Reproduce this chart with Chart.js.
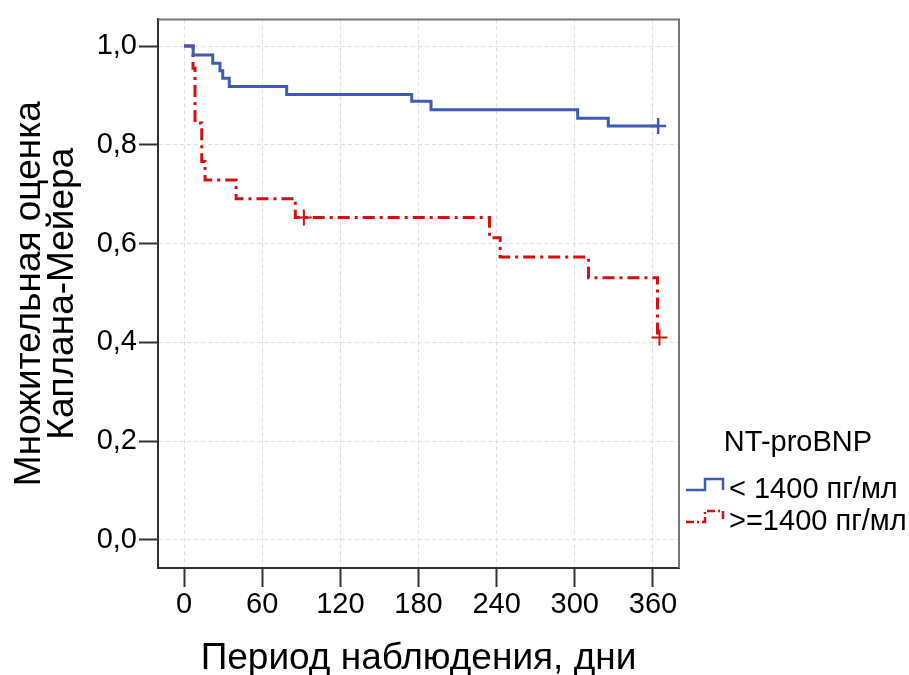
<!DOCTYPE html>
<html>
<head>
<meta charset="utf-8">
<script src="https://cdn.jsdelivr.net/npm/chart.js@4.4.1/dist/chart.umd.min.js"></script>
<style>
  html, body { margin: 0; padding: 0; background: #fff; }
</style>
</head>
<body>
<canvas id="km" width="909" height="675"></canvas>
<script>
// группы и подписи
const legendTitle = "NT-proBNP";
const groupNames = ["< 1400 пг/мл", ">=1400 пг/мл"];
const xTitle = "Период наблюдения, дни";
const yTitle = ["Множительная оценка", "Каплана-Мейера"];

// деления осей
const xTicks = [0, 60, 120, 180, 240, 300, 360];
const yTicks = [0, 0.2, 0.4, 0.6, 0.8, 1.0];

// кривая < 1400 (дни, выживаемость)
const lowDays = [0, 7, 22, 27.6, 29.7, 34.7, 78.8, 174.8, 189.6, 302.2, 325.7, 364];
const lowSurv = [1.0, 0.982, 0.965, 0.95, 0.935, 0.918, 0.902, 0.888, 0.871, 0.854, 0.838, 0.838];
const lowCensDays = [364];
const lowCensSurv = [0.838];

// кривая >= 1400
const highDays = [0, 6.9, 8.4, 13.6, 16.1, 40, 85.4, 234.5, 242.7, 310.5, 363.5, 365];
const highSurv = [1.0, 0.955, 0.844, 0.766, 0.729, 0.691, 0.653, 0.612, 0.573, 0.531, 0.41, 0.41];
const highCensDays = [92, 365];
const highCensSurv = [0.653, 0.41];

const blue = "#3e5bb5";
const red = "#d40f0f";
const redDash = [12, 5, 3, 5];
const fontFamily = 'Arial, "Liberation Sans", sans-serif';

Chart.defaults.font.family = fontFamily;
Chart.defaults.color = "#000";

const toPoints = (xs, ys) => xs.map((x, i) => ({ x: x, y: ys[i] }));
const comma = (v) => v.toFixed(1).replace(".", ",");

// рамка вокруг области графика
const framePlugin = {
  id: "frame",
  beforeDatasetsDraw(chart) {
    const { ctx, chartArea: a } = chart;
    ctx.save();
    ctx.strokeStyle = "#777";
    ctx.lineWidth = 2;
    ctx.beginPath();
    ctx.moveTo(a.left, a.top);
    ctx.lineTo(a.right, a.top);
    ctx.lineTo(a.right, a.bottom);
    ctx.stroke();
    ctx.restore();
  },
};

// легенда справа
const legendPlugin = {
  id: "kmLegend",
  afterDraw(chart) {
    const ctx = chart.ctx;
    ctx.save();
    ctx.fillStyle = "#000";
    ctx.font = "29px " + fontFamily;
    ctx.textBaseline = "middle";
    ctx.textAlign = "center";
    ctx.fillText(legendTitle, 798, 443);
    ctx.textAlign = "left";
    const styles = [
      { color: blue, dash: [] },
      { color: red, dash: [8, 3, 2, 3] },
    ];
    groupNames.forEach((name, i) => {
      const y = 490 + i * 32;
      ctx.strokeStyle = styles[i].color;
      ctx.lineWidth = 2.5;
      ctx.setLineDash(styles[i].dash);
      ctx.beginPath();
      ctx.moveTo(686, y);
      ctx.lineTo(705, y);
      ctx.lineTo(705, y - 11);
      ctx.lineTo(723, y - 11);
      ctx.lineTo(723, y);
      ctx.stroke();
      ctx.fillText(name, 729, y);
    });
    ctx.restore();
  },
};

new Chart(document.getElementById("km"), {
  type: "line",
  plugins: [framePlugin, legendPlugin],
  data: {
    datasets: [
      {
        label: groupNames[0],
        data: toPoints(lowDays, lowSurv),
        stepped: "before",
        borderColor: blue,
        borderWidth: 3,
        pointRadius: 0,
        fill: false,
      },
      {
        label: groupNames[1],
        data: toPoints(highDays, highSurv),
        stepped: "before",
        borderColor: red,
        borderWidth: 3,
        borderDash: redDash,
        pointRadius: 0,
        fill: false,
      },
      {
        label: "cens1",
        data: toPoints(lowCensDays, lowCensSurv),
        showLine: false,
        pointStyle: "cross",
        pointRadius: 8,
        borderColor: blue,
        borderWidth: 2.5,
      },
      {
        label: "cens2",
        data: toPoints(highCensDays, highCensSurv),
        showLine: false,
        pointStyle: "cross",
        pointRadius: 8,
        borderColor: red,
        borderWidth: 2,
      },
    ],
  },
  options: {
    responsive: false,
    animation: false,
    layout: { padding: { top: 17, right: 230, left: 0, bottom: 0 } },
    plugins: {
      legend: { display: false },
      tooltip: { enabled: false },
    },
    scales: {
      x: {
        type: "linear",
        min: -20,
        max: 380,
        afterBuildTicks: (scale) => {
          scale.ticks = xTicks.map((v) => ({ value: v }));
        },
        afterFit: (scale) => {
          scale.height = 107;
        },
        ticks: { autoSkip: false, padding: 1, font: { size: 29 } },
        grid: { color: "#dedede", lineWidth: 1, tickLength: 19, tickColor: "#333", tickWidth: 2 },
        border: { color: "#333", width: 2, dash: [4, 3] },
        title: {
          display: true,
          text: xTitle,
          font: { size: 37, lineHeight: 0.9 },
          padding: { top: 0, bottom: 0 },
        },
      },
      y: {
        type: "linear",
        min: -0.057,
        max: 1.054,
        afterBuildTicks: (scale) => {
          scale.ticks = yTicks.map((v) => ({ value: v }));
        },
        afterFit: (scale) => {
          scale.width = 158;
        },
        ticks: { autoSkip: false, padding: 2, font: { size: 29 }, callback: (v) => comma(v) },
        grid: { color: "#dedede", lineWidth: 1, tickLength: 19, tickColor: "#333", tickWidth: 2 },
        border: { color: "#333", width: 2, dash: [4, 3] },
        title: {
          display: true,
          text: yTitle,
          font: { size: 37, lineHeight: 0.88 },
          padding: { top: 13.5, bottom: 0 },
        },
      },
    },
  },
});
</script>
</body>
</html>
